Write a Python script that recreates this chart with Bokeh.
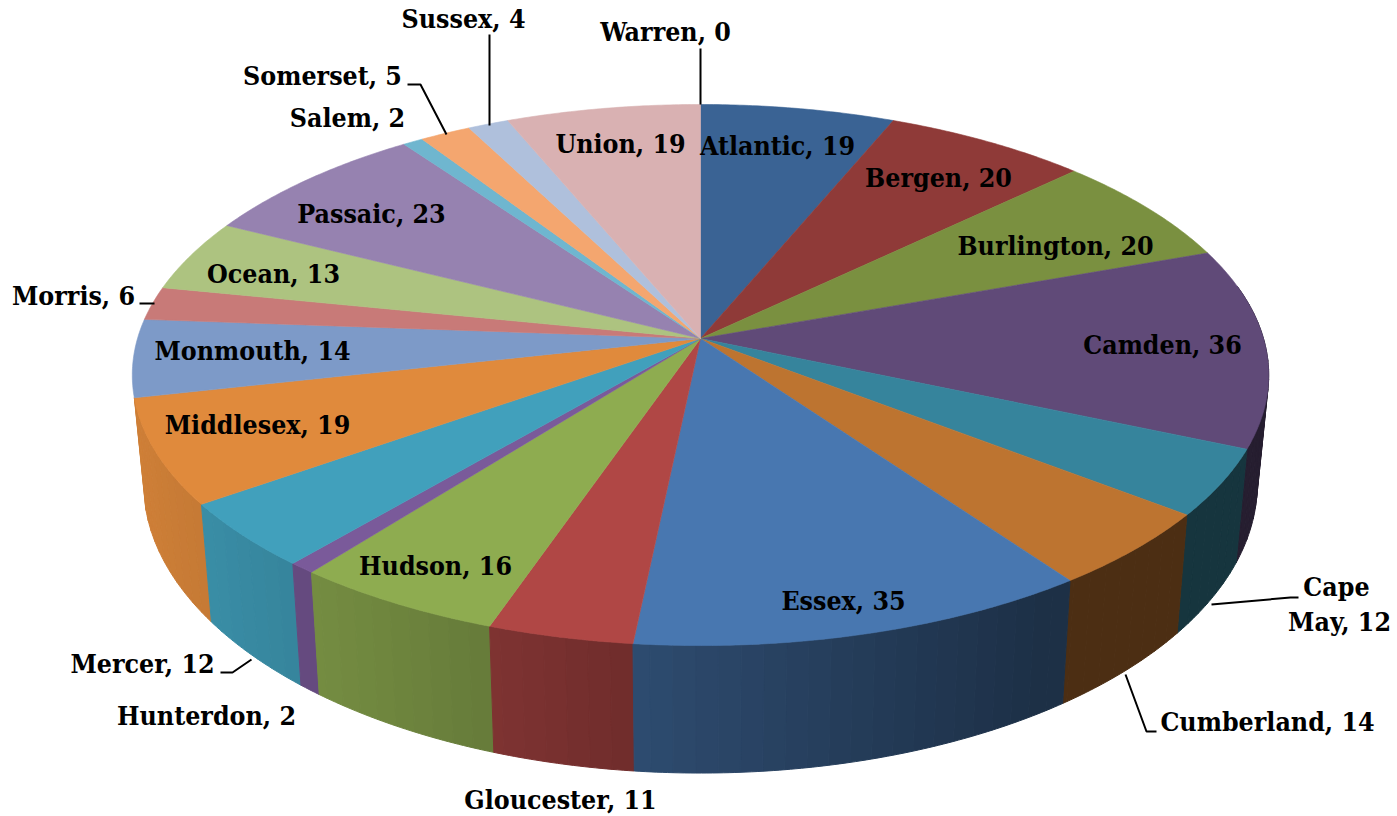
import numpy as np
from bokeh.plotting import figure
from bokeh.models import Range1d, ColumnDataSource
from bokeh.core.properties import value
from bokeh.embed import file_html
from bokeh.resources import INLINE

counties = ["Atlantic","Bergen","Burlington","Camden","Cape May","Cumberland","Essex","Gloucester",
            "Hudson","Hunterdon","Mercer","Middlesex","Monmouth","Morris","Ocean","Passaic",
            "Salem","Somerset","Sussex","Warren","Union"]
counts = [19,20,20,36,12,14,35,11,16,2,12,19,14,6,13,23,2,5,4,0,19]
top_colors = ["#3A6394","#8F3A38","#7A9040","#604A78","#36849C","#BD7430","#4877B0","#B04745",
              "#8EAC50","#7A5A9A","#41A0BC","#E08A3C","#7D9AC8","#C87A78","#ADC380","#9682B0",
              "#6FB6CF","#F4A66F","#AFC0DC","#C8C8C8","#D9B1B2"]

label_text = ["Atlantic, 19","Bergen, 20","Burlington, 20","Camden, 36","Cape","May, 12","Cumberland, 14",
              "Essex, 35","Gloucester, 11","Hudson, 16","Hunterdon, 2","Mercer, 12","Middlesex, 19",
              "Monmouth, 14","Morris, 6","Ocean, 13","Passaic, 23","Salem, 2","Somerset, 5","Sussex, 4",
              "Warren, 0","Union, 19"]
label_x = [777,938,1055,1162,1336,1339,1267,843,560,435,206,142,257,252,73,273,371,347,322,463,665,620]
label_y = [145,177,245,344,586,621,721,600,799,565,715,663,424,350,295,273,213,117,75,18,31,143]

leaders_x = [[700,700],[489,489],[407,420,446],[139,154],[220,232,251],[1211,1290,1298],[1125,1146,1156]]
leaders_y = [[48,104],[34,125],[84,84,134],[303,303],[672,672,659],[604,597,597],[674,731,731]]

CX, CY = 700.0, 338.0
A, B, K = 563.0, 265.6, 0.135
XS, YS, DROP = 0.98, 1.07, 106.0


def top_xy(t):
    u, v = np.sin(t), np.cos(t)
    w = 1 + K * v
    return CX + A * u / w, CY - B * v / w


def bottom_xy(t):
    x, y = top_xy(t)
    return CX + (x - CX) * XS, CY + (y - CY) * YS + DROP


def shade(col, f):
    c = [int(col[i:i + 2], 16) for i in (1, 3, 5)]
    return "#%02x%02x%02x" % tuple(int(round(min(255, v * f))) for v in c)


edges = np.concatenate([[0], np.cumsum(counts)]) / np.sum(counts) * 2 * np.pi

strips = []
face = dict(xs=[], ys=[], color=[])
for i, col in enumerate(top_colors):
    a0, a1 = edges[i], edges[i + 1]
    if a1 <= a0:
        continue
    n = max(2, int(np.degrees(a1 - a0) / 0.5))
    ts = np.linspace(a0, a1, n + 1)
    fx, fy = top_xy(ts)
    face["xs"].append([CX] + list(fx))
    face["ys"].append([CY] + list(fy))
    face["color"].append(col)
    step = 4
    for j in range(0, n, step):
        seg = ts[j:j + step + 1]
        c = np.cos(seg.mean())
        s = np.sin(seg.mean())
        if c > (0.2 if s > 0 else -0.2):
            continue
        tx, ty = top_xy(seg)
        bx, by = bottom_xy(seg)
        f = max(0.40, 1.005 - 0.000585 * bx.mean())
        strips.append((c, list(tx) + list(bx[::-1]), list(ty) + list(by[::-1]), shade(col, f)))

strips.sort(key=lambda r: -r[0])
wall = dict(xs=[r[1] for r in strips], ys=[r[2] for r in strips], color=[r[3] for r in strips])

p = figure(width=1397, height=816, output_backend="svg", toolbar_location=None,
           x_range=Range1d(0, 1397), y_range=Range1d(816, 0),
           min_border=0, outline_line_color=None)
p.axis.visible = False
p.grid.visible = False

p.patches("xs", "ys", source=ColumnDataSource(wall), fill_color="color", line_color="color", line_width=1.0)
p.patches("xs", "ys", source=ColumnDataSource(face), fill_color="color", line_color="color", line_width=0.6)
p.multi_line(leaders_x, leaders_y, line_color="#000000", line_width=2)
p.text(label_x, label_y, text=label_text, text_font=value("DejaVu Serif Condensed"), text_font_style="bold",
       text_font_size="26.5px", text_align="center", text_baseline="middle", text_color="#000000")

open("out.html", "w").write(file_html(p, INLINE))
